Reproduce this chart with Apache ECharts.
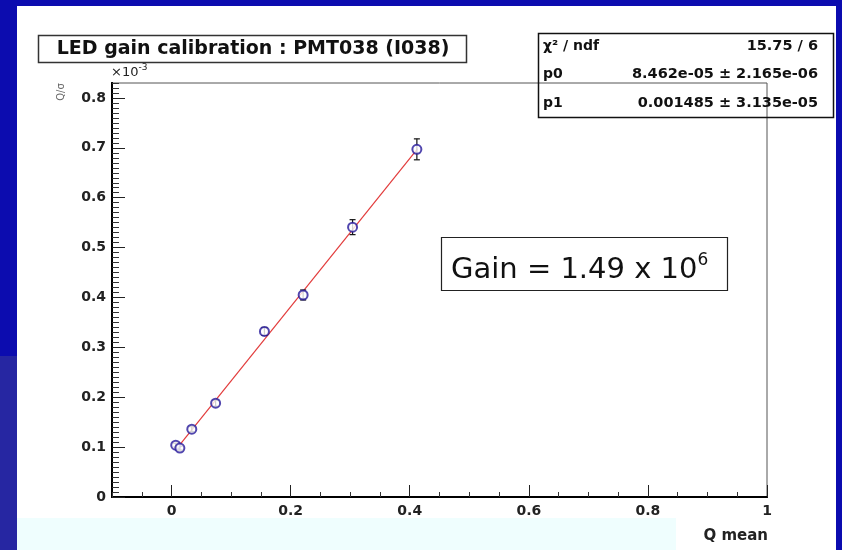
<!DOCTYPE html>
<html>
<head>
<meta charset="utf-8">
<script src="https://cdn.jsdelivr.net/npm/echarts@6/dist/echarts.min.js"></script>
<style>html,body{margin:0;padding:0;background:#fff;}#c{width:842px;height:550px;}</style>
</head>
<body>
<div id="c"></div>
<script>
// ---- data (y in units of 1e-3) ----
const qMean = [0.007, 0.014, 0.034, 0.074, 0.156, 0.221, 0.304, 0.412];
const gVal  = [0.104, 0.098, 0.136, 0.188, 0.332, 0.405, 0.541, 0.697];
const gErr  = [0.004, 0.004, 0.005, 0.006, 0.008, 0.010, 0.015, 0.021];
const fitX  = [0.008, 0.413];
const fitY  = [0.096, 0.698];
const xTickLabels = [0, 0.2, 0.4, 0.6, 0.8, 1];
const yTickLabels = [0, 0.1, 0.2, 0.3, 0.4, 0.5, 0.6, 0.7, 0.8];
const titleText = 'LED gain calibration : PMT038 (I038)';
const statsRows = [['χ² / ndf', '15.75 / 6'], ['p0', '8.462e-05 ± 2.165e-06'], ['p1', '0.001485 ± 3.135e-05']];

const FONT = '"DejaVu Sans", "Liberation Sans", Arial, sans-serif';
const chart = echarts.init(document.getElementById('c'), null, {renderer: 'canvas'});

const points = qMean.map((x, i) => [x, gVal[i]]);
const errData = qMean.map((x, i) => [x, gVal[i] - gErr[i], gVal[i] + gErr[i]]);
const fitData = fitX.map((x, i) => [x, fitY[i]]);

const baseX = {
  type: 'value', min: -0.1, max: 1, interval: 0.05, position: 'bottom', gridIndex: 0,
  axisLine: {show: true, onZero: false, lineStyle: {color: '#000', width: 2}},
  splitLine: {show: false}
};
const baseY = {
  type: 'value', min: 0, max: 0.83, interval: 0.01, position: 'left', gridIndex: 0,
  axisLine: {show: true, onZero: false, lineStyle: {color: '#000', width: 2}},
  splitLine: {show: false}
};

const option = {
  backgroundColor: '#ffffff',
  animation: false,
  grid: {left: 112, right: 75, top: 83, bottom: 53, show: true, borderColor: '#555', borderWidth: 1, backgroundColor: 'transparent'},
  xAxis: [
    Object.assign({}, baseX, {
      axisTick: {show: true, inside: true, length: 5, lineStyle: {color: '#333', width: 1}},
      axisLabel: {show: true, customValues: xTickLabels, margin: 7, fontFamily: FONT, fontSize: 14, fontWeight: 'bold', color: '#222',
        formatter: v => String(v)}
    }),
    Object.assign({}, baseX, {
      axisTick: {show: true, inside: true, length: 12, customValues: xTickLabels, lineStyle: {color: '#222', width: 1}},
      axisLabel: {show: false}
    })
  ],
  yAxis: [
    Object.assign({}, baseY, {
      axisTick: {show: true, inside: true, length: 7, lineStyle: {color: '#333', width: 1}},
      axisLabel: {show: true, customValues: yTickLabels, margin: 6, fontFamily: FONT, fontSize: 14, fontWeight: 'bold', color: '#222',
        formatter: v => String(v)}
    }),
    Object.assign({}, baseY, {
      axisTick: {show: true, inside: true, length: 13, customValues: yTickLabels, lineStyle: {color: '#222', width: 1}},
      axisLabel: {show: false}
    })
  ],
  series: [
    {
      type: 'line', xAxisIndex: 0, yAxisIndex: 0, data: fitData, showSymbol: false, symbol: 'none',
      lineStyle: {color: '#e23c3c', width: 1.2}, z: 2, silent: true
    },
    {
      type: 'custom', xAxisIndex: 0, yAxisIndex: 0, data: errData, z: 3,
      renderItem: function (params, api) {
        const x = api.value(0);
        const lo = api.coord([x, api.value(1)]);
        const hi = api.coord([x, api.value(2)]);
        const cap = 3;
        return {
          type: 'group',
          children: [
            {type: 'line', shape: {x1: lo[0], y1: lo[1], x2: hi[0], y2: hi[1]}, style: {stroke: '#111', lineWidth: 1.2}},
            {type: 'line', shape: {x1: lo[0] - cap, y1: lo[1], x2: lo[0] + cap, y2: lo[1]}, style: {stroke: '#111', lineWidth: 1.2}},
            {type: 'line', shape: {x1: hi[0] - cap, y1: hi[1], x2: hi[0] + cap, y2: hi[1]}, style: {stroke: '#111', lineWidth: 1.2}}
          ]
        };
      }
    },
    {
      type: 'scatter', xAxisIndex: 0, yAxisIndex: 0, data: points, symbol: 'emptyCircle', symbolSize: 9, z: 4,
      itemStyle: {color: '#26189a', borderColor: '#26189a', borderWidth: 2.2}
    }
  ],
  graphic: [
    // slide background strips
    {type: 'rect', shape: {x: 0, y: 0, width: 842, height: 6}, style: {fill: '#0c0caf'}},
    {type: 'rect', shape: {x: 0, y: 0, width: 17, height: 550}, style: {fill: '#0c0caf'}},
    {type: 'rect', shape: {x: 0, y: 356, width: 17, height: 194}, style: {fill: '#2626a2'}},
    {type: 'rect', shape: {x: 836, y: 0, width: 6, height: 550}, style: {fill: '#0c0caf'}},
    {type: 'rect', shape: {x: 17, y: 518, width: 659, height: 32}, style: {fill: '#effefe'}},
    // title box
    {type: 'rect', shape: {x: 38.5, y: 35.5, width: 428, height: 27}, style: {fill: 'none', stroke: '#333', lineWidth: 1.5}},
    {type: 'text', x: 253, y: 49, style: {text: titleText, font: 'bold 19px ' + FONT, fill: '#111', align: 'center', verticalAlign: 'middle'}},
    // stats box
    {type: 'rect', shape: {x: 538.5, y: 33.5, width: 295, height: 84}, style: {fill: 'none', stroke: '#111', lineWidth: 1.5}},
    ...statsRows.map((r, i) => ({type: 'text', x: 543, y: 46 + i * 28.5, style: {text: r[0], font: 'bold 14px ' + FONT, fill: '#111', align: 'left', verticalAlign: 'middle'}})),
    ...statsRows.map((r, i) => ({type: 'text', x: 818, y: 46 + i * 28.5, style: {text: r[1], font: 'bold 14.5px ' + FONT, fill: '#111', align: 'right', verticalAlign: 'middle'}})),
    // gain box
    {type: 'rect', shape: {x: 441.5, y: 237.5, width: 286, height: 53}, style: {fill: '#fff', stroke: '#222', lineWidth: 1.2}},
    {type: 'text', x: 451, y: 270, style: {
      text: '{a|Gain = 1.49 x 10}{b|6}',
      rich: {a: {font: '29px ' + FONT, fill: '#111'}, b: {font: '17px ' + FONT, fill: '#111', padding: [0, 0, 18, 0]}},
      verticalAlign: 'middle', align: 'left'}},
    // axis multiplier
    {type: 'text', x: 111, y: 73, style: {
      text: '{a|×10}{b|-3}',
      rich: {a: {font: '13px ' + FONT, fill: '#222'}, b: {font: '9px ' + FONT, fill: '#222', padding: [0, 0, 10, 0]}},
      verticalAlign: 'middle', align: 'left'}},
    // y title
    {type: 'text', x: 61, y: 92, rotation: Math.PI / 2, style: {text: 'Q/σ', font: '10px ' + FONT, fill: '#666', align: 'center', verticalAlign: 'middle'}},
    // x title
    {type: 'text', x: 768, y: 536, style: {text: 'Q mean', font: 'bold 15px ' + FONT, fill: '#222', align: 'right', verticalAlign: 'middle'}}
  ]
};
chart.setOption(option);
</script>
</body>
</html>
